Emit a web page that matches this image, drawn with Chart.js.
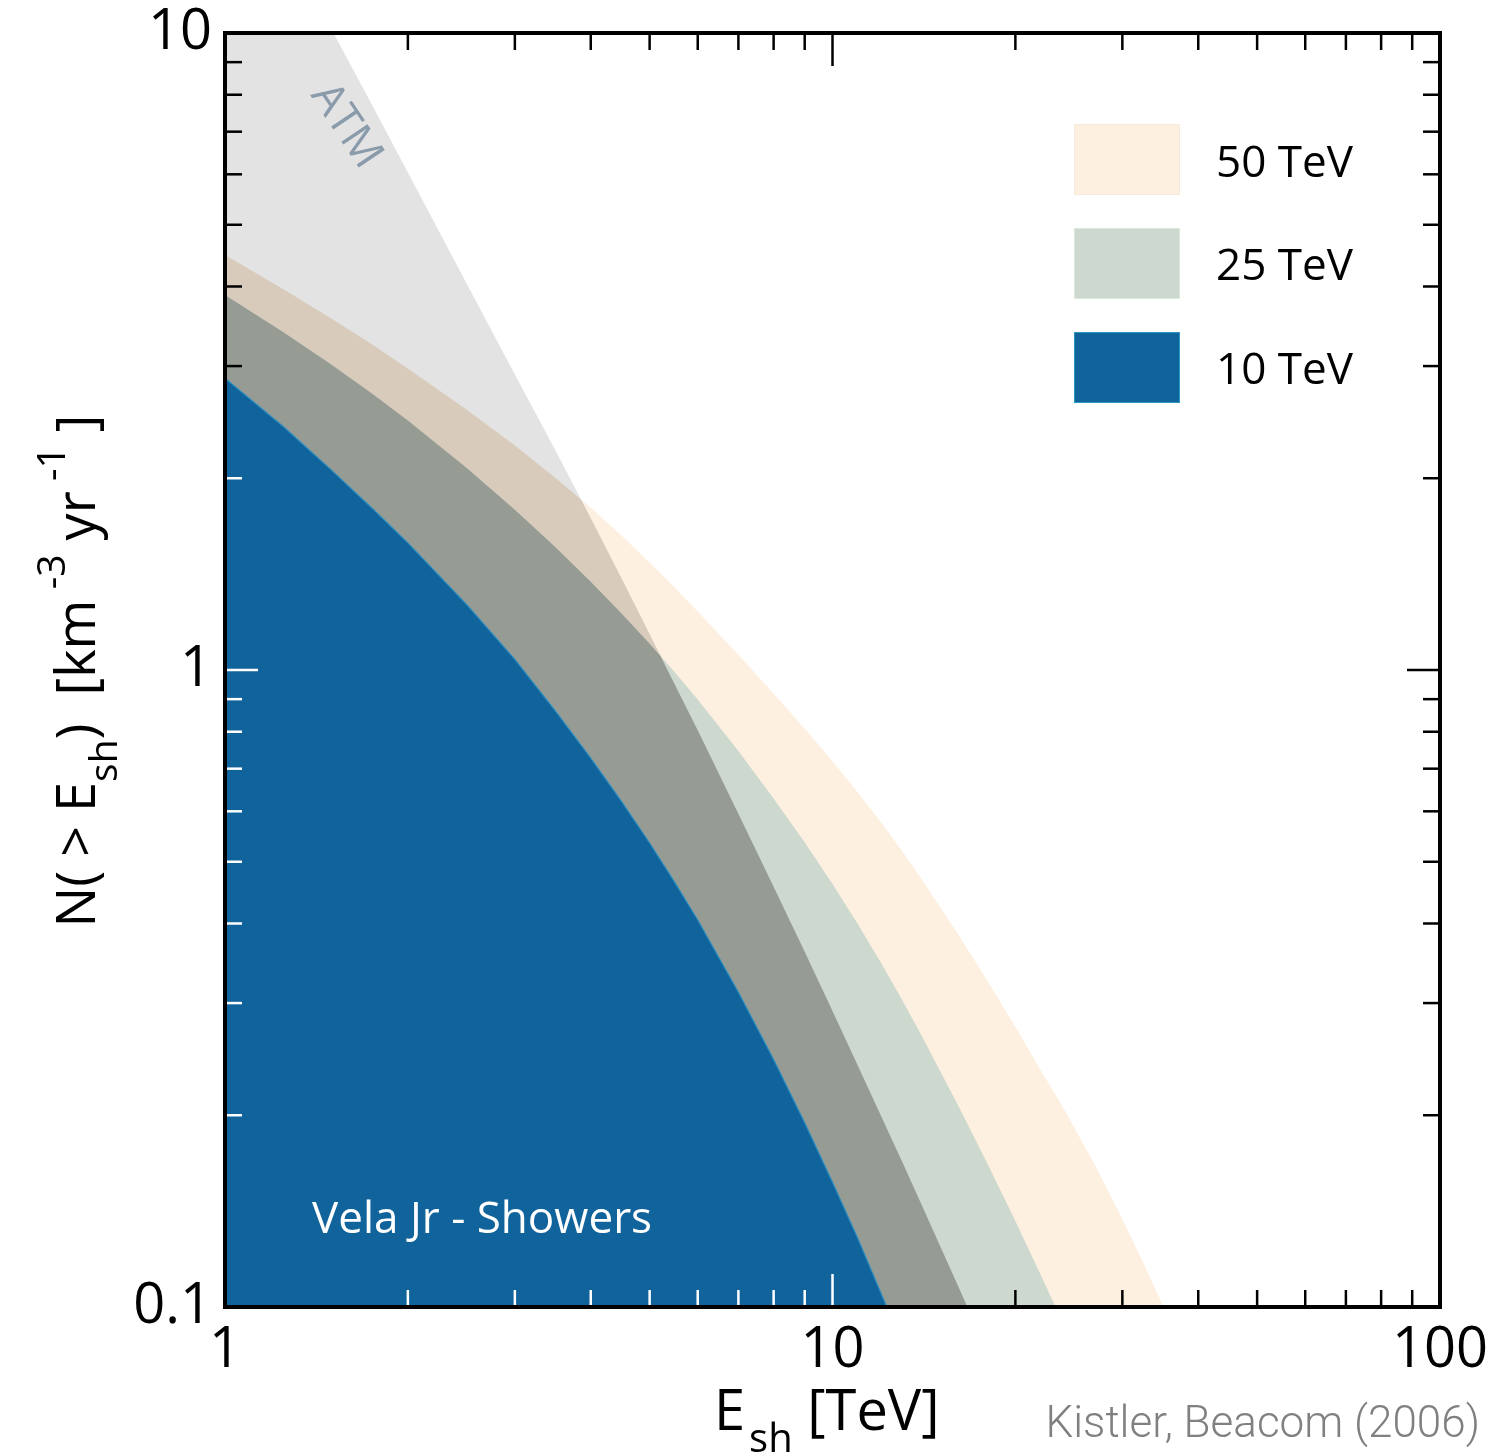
<!DOCTYPE html>
<html>
<head>
<meta charset="utf-8">
<title>Vela Jr - Showers</title>
<script src="https://cdn.jsdelivr.net/npm/chart.js@4.4.1/dist/chart.umd.min.js"></script>
<style>
  body { margin: 0; background: #fff; }
  canvas { display: block; }
</style>
</head>
<body>
<canvas id="showerChart" width="1509" height="1456"></canvas>
<script>
// shower energy grid [TeV]
const energies = [1, 1.25, 1.5, 1.75, 2, 2.5, 3, 3.5, 4, 4.5, 5, 5.5, 6, 7, 8, 9, 10,
                  11, 12, 13, 14, 16, 18, 20, 22, 24, 27, 30, 33, 36, 40];

// N(>E_sh) [km^-3 yr^-1] for each source cutoff, plus the atmospheric background
const rate50 = [4.483, 3.956, 3.558, 3.239, 2.974, 2.562, 2.251, 2.002, 1.797, 1.624, 1.475,
                1.348, 1.236, 1.057, 0.9186, 0.809, 0.719, 0.643, 0.5777, 0.5207, 0.4705, 0.3882,
                0.3248, 0.2754, 0.2358, 0.2051, 0.1675, 0.1374, 0.1136, 0.0945, 0.075];
const rate25 = [3.88, 3.386, 3.013, 2.713, 2.465, 2.076, 1.784, 1.558, 1.376, 1.226, 1.100,
                0.992, 0.899, 0.746, 0.6286, 0.5364, 0.4612, 0.3995, 0.3477, 0.3042, 0.2673, 0.2096,
                0.1677, 0.1364, 0.1125, 0.094, 0.0732, 0.0583, 0.0473, 0.0389, 0.0306];
const rate10 = [2.871, 2.407, 2.056, 1.791, 1.583, 1.267, 1.039, 0.862, 0.727, 0.621, 0.535,
                0.464, 0.405, 0.3119, 0.2446, 0.1947, 0.157, 0.1283, 0.1055, 0.0880, 0.0742, 0.0542,
                0.0407, 0.0313, 0.0247, 0.0197, 0.0146, 0.0111, 0.0086, 0.0068, 0.0051];
const rateAtm = [20.8, 14.0, 10.1, 7.68, 6.04, 4.04, 2.91, 2.21, 1.73, 1.389, 1.138,
                 0.949, 0.804, 0.595, 0.457, 0.3612, 0.2914, 0.2397, 0.2002, 0.1696, 0.1451, 0.1093,
                 0.0848, 0.0675, 0.0547, 0.0452, 0.0349, 0.0276, 0.0224, 0.0185, 0.0147];

const xTickLabels = [1, 10, 100];
const yTickLabels = [0.1, 1, 10];
const legendLabels = ['50 TeV', '25 TeV', '10 TeV'];

const colors = {
  c50: '#fdf0e1',
  c25: '#cdd8ce',
  c10: '#11639c',
  atm: '#e3e3e3',
  atm50: '#d8cbbc',
  atm25: '#969c94'
};

const MAIN_FONT = '"Open Sans", "Noto Sans", sans-serif';

function toPoints(values) {
  return energies.map((e, i) => ({ x: e, y: values[i] }));
}

// lower envelope of two curves, with the crossing points added (straight lines in log-log)
function lowerEnvelope(a, b) {
  const pts = [];
  for (let i = 0; i < energies.length; i++) {
    pts.push({ x: energies[i], y: Math.min(a[i], b[i]) });
    if (i < energies.length - 1) {
      const d0 = Math.log(a[i]) - Math.log(b[i]);
      const d1 = Math.log(a[i + 1]) - Math.log(b[i + 1]);
      if (d0 * d1 < 0) {
        const t = d0 / (d0 - d1);
        const lx = Math.log(energies[i]) + t * (Math.log(energies[i + 1]) - Math.log(energies[i]));
        const ly = Math.log(a[i]) + t * (Math.log(a[i + 1]) - Math.log(a[i]));
        pts.push({ x: Math.exp(lx), y: Math.exp(ly) });
      }
    }
  }
  return pts;
}

function area(label, data, color, extra) {
  return Object.assign({
    label: label,
    data: data,
    backgroundColor: color,
    borderColor: 'rgba(0,0,0,0)',
    borderWidth: 0,
    pointRadius: 0,
    pointHoverRadius: 0,
    tension: 0,
    fill: 'start'
  }, extra || {});
}

// first dataset is painted last (on top)
const datasets = [
  area('10 TeV', toPoints(rate10), colors.c10, { borderColor: '#2a8ec3', borderWidth: 1.2 }),
  area('ATM x 25 TeV', lowerEnvelope(rateAtm, rate25), colors.atm25),
  area('25 TeV', toPoints(rate25), colors.c25),
  area('ATM x 50 TeV', lowerEnvelope(rateAtm, rate50), colors.atm50),
  area('ATM', toPoints(rateAtm), colors.atm),
  area('50 TeV', toPoints(rate50), colors.c50)
];

// minor tick values for the frame
const xMinor = [], yMinor = [];
for (const d of [1, 10]) for (let k = 2; k <= 9; k++) xMinor.push(k * d);
for (const d of [0.1, 1]) for (let k = 2; k <= 9; k++) yMinor.push(+(k * d).toFixed(1));

const frameAndTicks = {
  id: 'frameAndTicks',
  afterDatasetsDraw(chart) {
    const { ctx, chartArea: a, scales: { x, y } } = chart;
    const blue = chart.getDatasetMeta(0).data;

    // pixel y of the 10 TeV edge at pixel x
    function blueTop(px) {
      for (let i = 1; i < blue.length; i++) {
        if (blue[i].x >= px) {
          const p0 = blue[i - 1], p1 = blue[i];
          return p0.y + (p1.y - p0.y) * (px - p0.x) / (p1.x - p0.x);
        }
      }
      return Infinity;
    }

    function tick(x1, y1, x2, y2) {
      const mx = (x1 + x2) / 2, my = (y1 + y2) / 2;
      ctx.strokeStyle = my > blueTop(mx) ? '#ffffff' : '#000000';
      ctx.beginPath();
      ctx.moveTo(x1, y1);
      ctx.lineTo(x2, y2);
      ctx.stroke();
    }

    ctx.save();
    ctx.lineWidth = 2.5;
    const minorLen = 17, majorLen = 33;

    xMinor.forEach(v => {
      const px = x.getPixelForValue(v);
      tick(px, a.bottom, px, a.bottom - minorLen);
      tick(px, a.top, px, a.top + minorLen);
    });
    const px10 = x.getPixelForValue(10);
    tick(px10, a.bottom, px10, a.bottom - majorLen);
    tick(px10, a.top, px10, a.top + majorLen);

    yMinor.forEach(v => {
      const py = y.getPixelForValue(v);
      tick(a.left, py, a.left + minorLen, py);
      tick(a.right, py, a.right - minorLen, py);
    });
    const py1 = y.getPixelForValue(1);
    tick(a.left, py1, a.left + majorLen, py1);
    tick(a.right, py1, a.right - majorLen, py1);

    ctx.strokeStyle = '#000';
    ctx.lineWidth = 4;
    ctx.strokeRect(a.left, a.top, a.right - a.left, a.bottom - a.top);
    ctx.restore();
  }
};

function drawParts(ctx, parts, x, y, align) {
  let w = 0;
  parts.forEach(p => {
    ctx.font = p.font;
    w += ctx.measureText(p.text).width + (p.gap || 0);
  });
  let cx = align === 'center' ? x - w / 2 : x;
  parts.forEach(p => {
    ctx.font = p.font;
    cx += p.gap || 0;
    ctx.fillText(p.text, cx, y + (p.dy || 0));
    cx += ctx.measureText(p.text).width;
  });
}

const labelsAndLegend = {
  id: 'labelsAndLegend',
  afterDraw(chart) {
    const ctx = chart.ctx;
    const main = '56px ' + MAIN_FONT;
    const sub = '40px ' + MAIN_FONT;
    ctx.save();
    ctx.fillStyle = '#000';
    ctx.textAlign = 'left';
    ctx.textBaseline = 'alphabetic';

    // x axis title
    drawParts(ctx, [
      { text: 'E', font: main },
      { text: 'sh', font: sub, dy: 22, gap: 4 },
      { text: ' [TeV]', font: main }
    ], 714, 1430, 'left');

    // y axis title
    const yMain = '54px ' + MAIN_FONT;
    const ySub = '39px ' + MAIN_FONT;
    ctx.save();
    ctx.translate(95, 671);
    ctx.rotate(-Math.PI / 2);
    drawParts(ctx, [
      { text: 'N( > E', font: yMain },
      { text: 'sh', font: ySub, dy: 22 },
      { text: ')', font: yMain },
      { text: '  [km', font: yMain },
      { text: ' -3', font: ySub, dy: -30 },
      { text: ' yr', font: yMain },
      { text: ' -1', font: ySub, dy: -30 },
      { text: ' ]', font: yMain }
    ], 0, 0, 'center');
    ctx.restore();

    // legend
    const boxColors = [colors.c50, colors.c25, colors.c10];
    const boxEdges = ['#f7eadb', '#dbe8dc', '#2a9ac4'];
    const boxTops = [124, 228, 332];
    const baselines = [177, 280, 384];
    ctx.font = '44px ' + MAIN_FONT;
    legendLabels.forEach((label, i) => {
      ctx.fillStyle = boxColors[i];
      ctx.fillRect(1074, boxTops[i], 106, 71);
      ctx.strokeStyle = boxEdges[i];
      ctx.lineWidth = 1;
      ctx.strokeRect(1074.5, boxTops[i] + 0.5, 105, 70);
      ctx.fillStyle = '#000';
      ctx.fillText(label, 1216, baselines[i]);
    });

    // panel label
    ctx.fillStyle = '#ffffff';
    ctx.font = '44px ' + MAIN_FONT;
    ctx.fillText('Vela Jr - Showers', 312, 1233);

    // ATM label along its edge
    ctx.save();
    ctx.translate(346, 126);
    ctx.rotate(56 * Math.PI / 180);
    ctx.fillStyle = '#8a9bab';
    ctx.font = '44px ' + MAIN_FONT;
    ctx.textAlign = 'center';
    ctx.textBaseline = 'middle';
    ctx.fillText('ATM', 0, 0);
    ctx.restore();

    // credit
    ctx.fillStyle = '#808080';
    ctx.font = '300 44px Roboto, "Liberation Sans", sans-serif';
    ctx.textAlign = 'right';
    ctx.fillText('Kistler, Beacom (2006)', 1480, 1437);
    ctx.restore();
  }
};

new Chart(document.getElementById('showerChart'), {
  type: 'line',
  data: { datasets: datasets },
  options: {
    responsive: false,
    animation: false,
    events: [],
    layout: { autoPadding: false, padding: { top: 33, right: 69, left: 0, bottom: 0 } },
    plugins: {
      legend: { display: false },
      tooltip: { enabled: false }
    },
    scales: {
      x: {
        type: 'logarithmic',
        min: 1,
        max: 100,
        grid: { display: false, drawTicks: false },
        border: { display: false },
        afterBuildTicks: s => { s.ticks = xTickLabels.map(v => ({ value: v })); },
        afterFit: s => {
          s.height = 149;
          s.paddingLeft = 0;
          s.paddingRight = 0;
        },
        ticks: {
          autoSkip: false,
          maxRotation: 0,
          padding: 16,
          color: '#000',
          font: { family: MAIN_FONT, size: 56, lineHeight: 1 },
          callback: v => String(v)
        }
      },
      y: {
        type: 'logarithmic',
        min: 0.1,
        max: 10,
        grid: { display: false, drawTicks: false },
        border: { display: false },
        afterBuildTicks: s => { s.ticks = yTickLabels.map(v => ({ value: v })); },
        afterFit: s => {
          s.width = 225;
          s.paddingTop = 0;
          s.paddingBottom = 0;
        },
        ticks: {
          autoSkip: false,
          padding: 13,
          color: '#000',
          font: { family: MAIN_FONT, size: 56, lineHeight: 1 },
          callback: v => String(v)
        }
      }
    }
  },
  plugins: [frameAndTicks, labelsAndLegend]
});
</script>
</body>
</html>
